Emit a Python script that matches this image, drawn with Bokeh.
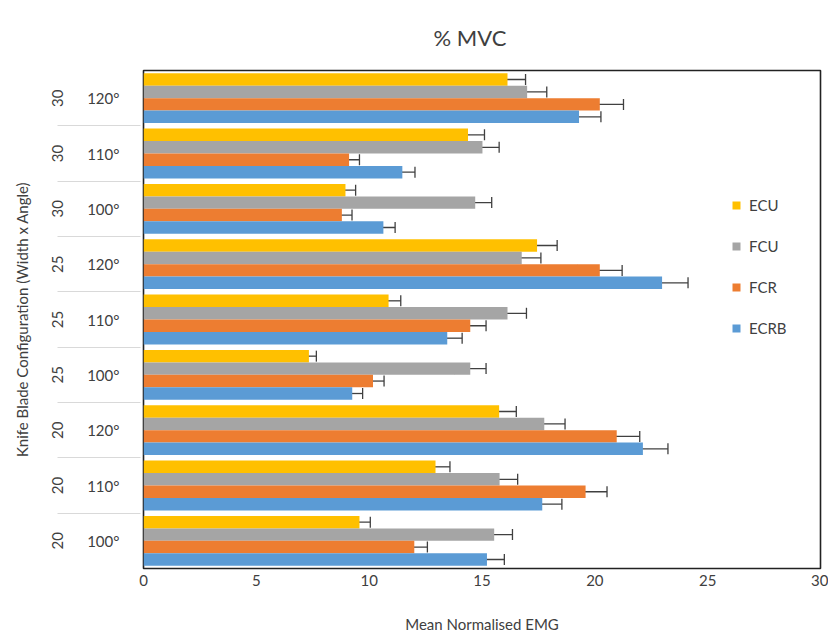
from bokeh.plotting import figure
from bokeh.models import FactorRange, ColumnDataSource, Whisker, TeeHead, Legend, LegendItem
from bokeh.transform import dodge
from bokeh.embed import file_html
from bokeh.resources import INLINE

# rows listed bottom -> top
widths = ["20", "20", "20", "25", "25", "25", "30", "30", "30"]
angles = ["100°", "110°", "120°", "100°", "110°", "120°", "100°", "110°", "120°"]

ECU = [9.57, 12.94, 15.76, 7.33, 10.86, 17.44, 8.95, 14.38, 16.13]
FCU = [15.54, 15.78, 17.76, 14.48, 16.13, 16.76, 14.70, 15.02, 17.00]
FCR = [12.00, 19.59, 20.97, 10.17, 14.48, 20.22, 8.79, 9.11, 20.22]
ECRB = [15.22, 17.67, 22.13, 9.25, 13.46, 22.98, 10.63, 11.47, 19.30]

ECU_err = [0.48, 0.64, 0.76, 0.33, 0.54, 0.89, 0.45, 0.73, 0.80]
FCU_err = [0.81, 0.80, 0.92, 0.70, 0.84, 0.85, 0.73, 0.74, 0.87]
FCR_err = [0.58, 0.95, 1.02, 0.49, 0.70, 0.99, 0.45, 0.46, 1.05]
ECRB_err = [0.77, 0.87, 1.11, 0.46, 0.66, 1.15, 0.52, 0.56, 0.97]

x_ticks = [0, 5, 10, 15, 20, 25, 30]

series = ["ECU", "FCU", "FCR", "ECRB"]
values = {"ECU": ECU, "FCU": FCU, "FCR": FCR, "ECRB": ECRB}
errors = {"ECU": ECU_err, "FCU": FCU_err, "FCR": FCR_err, "ECRB": ECRB_err}
colors = {"ECU": "#FFC000", "FCU": "#A5A5A5", "FCR": "#ED7D31", "ECRB": "#5B9BD5"}
offsets = {"ECU": 0.3375, "FCU": 0.1125, "FCR": -0.1125, "ECRB": -0.3375}

# each row keeps its own width label (invisible zero-width padding keeps factors unique)
ZW = "\u200b"
rows = [(ZW * i + w + ZW * i, a) for i, (w, a) in enumerate(zip(widths, angles))]

data = {"row": rows}
for s in series:
    data[s] = values[s]
    data[s + "_lo"] = [v - e for v, e in zip(values[s], errors[s])]
    data[s + "_hi"] = [v + e for v, e in zip(values[s], errors[s])]
source = ColumnDataSource(data)

FONT = "Lato"
TXT = "#404040"

p = figure(width=828, height=635, output_backend="svg", toolbar_location=None,
           y_range=FactorRange(*rows, group_padding=0, factor_padding=0, range_padding=0),
           x_range=(0, 30), title="% MVC",
           min_border_left=143, min_border_right=8, min_border_top=70, min_border_bottom=60)

renderers = {}
for s in series:
    r = p.hbar(y=dodge("row", offsets[s], range=p.y_range), right=s, left=0, height=0.225,
               source=source, color=colors[s], line_color=None)
    renderers[s] = r
    w = Whisker(source=source, base=dodge("row", offsets[s], range=p.y_range),
                lower=s + "_lo", upper=s + "_hi", dimension="width",
                line_color="#404040", line_width=1.3,
                lower_head=TeeHead(size=11, line_color="#404040", line_width=1.3),
                upper_head=TeeHead(size=11, line_color="#404040", line_width=1.3))
    p.add_layout(w)

legend = Legend(items=[LegendItem(label=s, renderers=[renderers[s]]) for s in series],
                location=(588, 230), orientation="vertical",
                border_line_color=None, background_fill_alpha=0,
                padding=0, margin=0, spacing=21, label_height=20, glyph_height=10, glyph_width=10,
                label_standoff=8,
                label_text_font=FONT, label_text_font_size="15px", label_text_color=TXT)
p.add_layout(legend)

p.title.align = "left"
p.title.offset = 290
p.title.vertical_align = "top"
p.title.standoff = 36
p.title.text_font = FONT
p.title.text_font_size = "22px"
p.title.text_font_style = "normal"
p.title.text_color = TXT

p.xgrid.grid_line_color = None
p.ygrid.grid_line_color = None
p.outline_line_color = "#222222"
p.outline_line_width = 1.6

p.xaxis.ticker = x_ticks
p.xaxis.axis_line_color = None
p.xaxis.major_tick_line_color = None
p.xaxis.minor_tick_line_color = None
p.xaxis.major_label_standoff = 0
p.xaxis.major_label_text_font = FONT
p.xaxis.major_label_text_font_size = "15px"
p.xaxis.major_label_text_color = TXT
p.xaxis.axis_label = "Mean Normalised EMG"
p.xaxis.axis_label_text_font = FONT
p.xaxis.axis_label_text_font_size = "15px"
p.xaxis.axis_label_text_font_style = "normal"
p.xaxis.axis_label_text_color = TXT
p.xaxis.axis_label_standoff = 26

p.yaxis.axis_line_color = None
p.yaxis.major_tick_line_color = None
p.yaxis.minor_tick_line_color = None
p.yaxis.major_label_standoff = 18
p.yaxis.major_label_text_font = FONT
p.yaxis.major_label_text_font_size = "15px"
p.yaxis.major_label_text_color = TXT
p.yaxis.group_text_font = FONT
p.yaxis.group_text_font_size = "15px"
p.yaxis.group_text_color = TXT
p.yaxis.group_text_font_style = "normal"
p.yaxis.separator_line_color = "#D9D9D9"
p.yaxis.separator_line_width = 1
p.yaxis.axis_label = "Knife Blade Configuration (Width x Angle)"
p.yaxis.axis_label_text_font = FONT
p.yaxis.axis_label_text_font_size = "15px"
p.yaxis.axis_label_text_font_style = "normal"
p.yaxis.axis_label_text_color = TXT
p.yaxis.axis_label_standoff = 14

open("out.html", "w").write(file_html(p, INLINE))
